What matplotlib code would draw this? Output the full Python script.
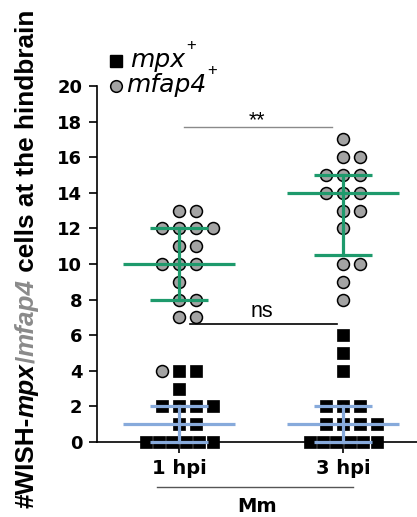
import numpy as np
import matplotlib
matplotlib.use("Agg")
import matplotlib.pyplot as plt
import matplotlib.transforms as mtransforms

# ---------------- data ----------------
groups = ["1 hpi", "3 hpi"]
mpx_1hpi = [4, 4, 3, 2, 2, 2, 2, 1, 1, 0, 0, 0, 0, 0, 0]
mfap4_1hpi = [13, 13, 12, 12, 12, 12, 11, 11, 10, 10, 10, 9, 8, 8, 7, 7, 4]
mpx_3hpi = [6, 5, 4, 2, 2, 2, 1, 1, 1, 1, 0, 0, 0, 0, 0, 0]
mfap4_3hpi = [17, 16, 16, 15, 15, 15, 14, 14, 14, 13, 13, 12, 10, 10, 9, 8]
yticks = list(range(0, 21, 2))
legend_labels = ["mpx", "mfap4"]
stat_labels = ["**", "ns"]
group_label = "Mm"

mpx = [mpx_1hpi, mpx_3hpi]
mfap4 = [mfap4_1hpi, mfap4_3hpi]

# ---------------- style ----------------
W, H = 417, 517
FONT = "Liberation Sans"
WIDE = "DejaVu Sans"
GREEN = "#1e9a6c"
BLUE = "#87aadb"
GRAY_FACE = "#a3a3a3"
LABEL_GRAY = "#8a8a8a"
SLOT = 0.102
MAXSLOT = 2

def px(x, y):
    return x / W, 1 - y / H

fig = plt.figure(figsize=(W / 100, H / 100), dpi=100)
ax = fig.add_axes([97 / W, (H - 442) / H, 320 / W, 356 / H])
ax.set_xlim(-0.5, 1.45)
ax.set_ylim(0, 20)

slot_order = [0, 1, -1, 2, -2]

def swarm(vals_sq, vals_ci):
    pts = [("s", v) for v in vals_sq] + [("o", v) for v in vals_ci]
    out = {"s": [], "o": []}
    byval = {}
    for kind, v in pts:
        byval.setdefault(v, []).append(kind)
    for v, kinds in byval.items():
        n = len(kinds)
        if n <= len(slot_order):
            offs = slot_order[:n]
        else:
            offs = list(np.linspace(-MAXSLOT, MAXSLOT, n))
        for k, o in zip(kinds, offs):
            out[k].append((o * SLOT, v))
    return out

def gp_quart(vals):
    return np.percentile(vals, [25, 50, 75], method="weibull")

for gi in range(len(groups)):
    sw = swarm(mpx[gi], mfap4[gi])
    sx = [gi + o for o, v in sw["s"]]
    sy = [v for o, v in sw["s"]]
    cx = [gi + o for o, v in sw["o"]]
    cy = [v for o, v in sw["o"]]
    ax.plot(sx, sy, ls="none", marker="s", ms=8.2, mfc="black", mec="black",
            mew=0.5, clip_on=False, zorder=3)
    ax.plot(cx, cy, ls="none", marker="o", ms=8.6, mfc=GRAY_FACE, mec="black",
            mew=1.1, clip_on=False, zorder=3)
    for vals, col in ((mfap4[gi], GREEN), (mpx[gi], BLUE)):
        q1, med, q3 = gp_quart(vals)
        ax.plot([gi - 0.34, gi + 0.34], [med, med], color=col, lw=2.3,
                solid_capstyle="butt", clip_on=False, zorder=4)
        for q in (q1, q3):
            ax.plot([gi - 0.175, gi + 0.175], [q, q], color=col, lw=2.3,
                    solid_capstyle="butt", clip_on=False, zorder=4)
        ax.plot([gi, gi], [q1, q3], color=col, lw=2.3, clip_on=False, zorder=4)

# axes styling
for s in ("top", "right"):
    ax.spines[s].set_visible(False)
for s in ("left", "bottom"):
    ax.spines[s].set_linewidth(1.2)
ax.spines["bottom"].set_zorder(2)
ax.set_yticks(yticks)
ax.set_yticklabels([str(t) for t in yticks], fontfamily=WIDE,
                   fontweight="bold", fontsize=13)
ax.set_xticks(range(len(groups)))
ax.set_xticklabels(groups, fontfamily=WIDE, fontweight="bold", fontsize=14)
ax.tick_params(axis="y", length=6, width=1.2, pad=4.5)
ax.tick_params(axis="x", length=8, width=1.2, pad=4)

# stats annotations
ax.plot([0.03, 0.93], [17.7, 17.7], color="#8a8a8a", lw=1.0, clip_on=False)
ax.text(0.475, 17.72, stat_labels[0], ha="center", va="baseline",
        fontfamily=FONT, fontsize=15.5)
ax.plot([0.067, 0.963], [6.63, 6.63], color="black", lw=1.2, clip_on=False)
ax.text(0.505, 7.0, stat_labels[1], ha="center", va="baseline",
        fontfamily=FONT, fontsize=15.5)

# group bracket
trans = mtransforms.blended_transform_factory(ax.transData, ax.transAxes)
ax.plot([-0.134, 1.06], [-0.126, -0.126], color="#555555", lw=1.0,
        transform=trans, clip_on=False)
ax.text(0.475, -0.18, group_label, transform=trans, ha="center", va="center",
        fontfamily=WIDE, fontweight="bold", fontsize=14)

# legend
fig.canvas.draw()
renderer = fig.canvas.get_renderer()
mx, my = px(115.7, 60.7)
fig.lines.append(plt.Line2D([mx], [my], marker="s", ms=8, mfc="black",
                            mec="black", ls="none", transform=fig.transFigure))
mx, my = px(115.7, 85.7)
fig.lines.append(plt.Line2D([mx], [my], marker="o", ms=8.4, mfc=GRAY_FACE,
                            mec="black", mew=1.1, ls="none",
                            transform=fig.transFigure))
for lab, (tx, ty) in zip(legend_labels, [(130, 66.7), (126, 91.7)]):
    x0, y0 = px(tx, ty)
    t = fig.text(x0, y0, lab, fontfamily=WIDE, fontstyle="oblique",
                 fontsize=18, ha="left", va="baseline")
    bb = t.get_window_extent(renderer)
    fig.text(bb.x1 / W + 1.5 / W, y0 + 21 / H, "+", fontfamily=FONT,
             fontsize=12, ha="left", va="center")

# y label, multi-style
pieces = [("#WISH-", "black", "normal"), ("mpx", "black", "italic"),
          ("/", LABEL_GRAY, "normal"), ("mfap4", LABEL_GRAY, "italic"),
          (" cells at the hindbrain", "black", "normal")]
xb = 34 / W
ycur = (H - 508) / H
for s, col, st in pieces:
    t = fig.text(xb, ycur, s, rotation=90, rotation_mode="anchor", ha="left",
                 va="baseline", color=col, fontstyle=st, fontweight="bold",
                 fontfamily=FONT, fontsize=18.8)
    bb = t.get_window_extent(renderer)
    ycur += bb.height / H

fig.savefig("out.png", dpi=100)
